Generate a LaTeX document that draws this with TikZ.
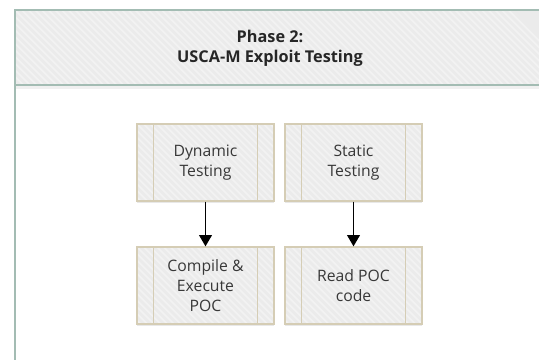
\documentclass[tikz,border=0pt]{standalone}
\usepackage{fontspec}
\setmainfont{Open Sans}
\usetikzlibrary{arrows.meta,shadows}
\definecolor{boxfill}{HTML}{EBEBEB}
\definecolor{stripe}{HTML}{F2F2F2}
\definecolor{boxline}{HTML}{D5CDB5}
\definecolor{frameline}{HTML}{A3BCB3}
\definecolor{txt}{HTML}{383838}
\tikzset{
  striped/.style={fill=boxfill, path picture={
      \foreach \k in {0,...,90}{
        \draw[stripe, line width=1.3pt] ([xshift=\k*5pt-80pt]path picture bounding box.north west) -- ++(90pt,-90pt);
      }}},
  procbox/.style={striped, draw=boxline, line width=0.9pt, minimum width=102.75pt, minimum height=57.75pt,
    align=center, text=txt, font=\fontsize{11.8}{15}\selectfont, inner sep=0pt,
    drop shadow={shadow xshift=0pt, shadow yshift=-1.5pt, opacity=0.18}},
  innerline/.style={draw=boxline, line width=0.9pt},
  flow/.style={-{Triangle[length=8.5pt,width=9.5pt]}, line width=1.4pt, black},
  frame/.style={draw=frameline, line width=1.4pt},
  hdrtext/.style={font=\bfseries\fontsize{12.2}{15}\selectfont, text=black!85, align=center}
}
\begin{document}
\begin{tikzpicture}[x=0.75pt,y=-0.75pt]
\useasboundingbox (0,0) rectangle (539,360);
\clip (0,0) rectangle (539,360);
% header band
\path[striped] (15,10) rectangle (560,85);
\fill[black, opacity=0.06] (15,86) rectangle (560,89);
\draw[frame] (15,380) -- (15,10) -- (560,10);
\draw[frame] (15,85) -- (560,85);
\node[hdrtext] (hdr) at (270,48) {Phase 2:\\USCA-M Exploit Testing};
% process boxes
\node[procbox] (dyn) at (205.5,162.5) {Dynamic\\Testing};
\node[procbox] (sta) at (353.5,162.5) {Static\\Testing};
\node[procbox] (cmp) at (205.5,285.5) {Compile \&\\Execute\\POC};
\node[procbox] (rd)  at (353.5,285.5) {Read POC\\code};
\foreach \n in {dyn,sta,cmp,rd}{
  \draw[innerline] ([xshift=12.75pt]\n.north west) -- ([xshift=12.75pt]\n.south west);
  \draw[innerline] ([xshift=-12.75pt]\n.north east) -- ([xshift=-12.75pt]\n.south east);
}
\draw[flow] (dyn) -- (cmp);
\draw[flow] (sta) -- (rd);
\end{tikzpicture}
\end{document}
